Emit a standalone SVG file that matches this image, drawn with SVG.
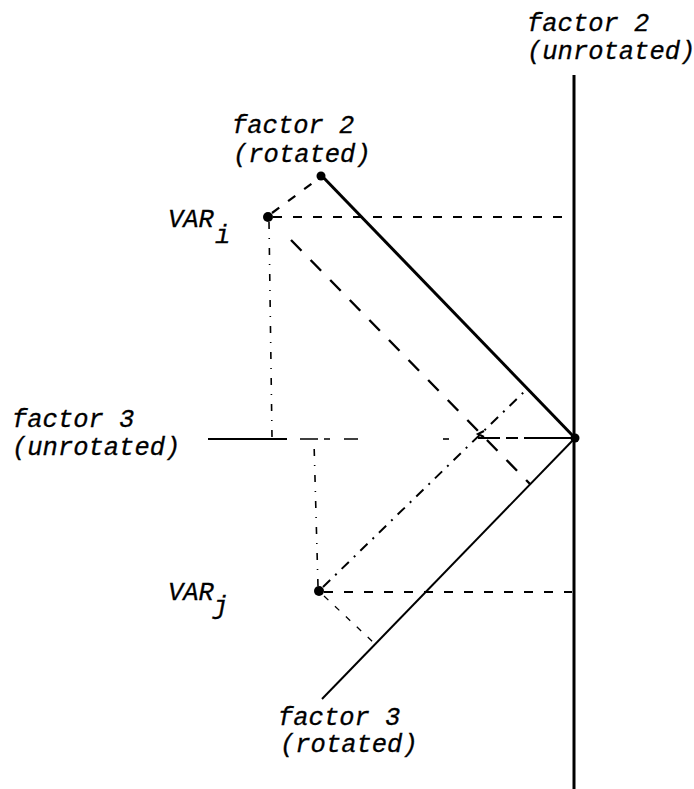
<svg xmlns="http://www.w3.org/2000/svg" width="694" height="789" viewBox="0 0 694 789">
<style>
  text { font-family: "Liberation Mono", "DejaVu Sans Mono", monospace; font-style: italic; font-size: 25.5px; fill: #000; stroke: #000; stroke-width: 0.3; }
  .axis { stroke: #000; fill: none; stroke-linecap: butt; }
  .proj { stroke: #000; fill: none; }
  .dash { stroke-width: 2.2; stroke-dasharray: 9 11; }
  .longdash { stroke-width: 2.4; stroke-dasharray: 15 13; }
  .dashdot { stroke-width: 2; stroke-dasharray: 10 7 2 7; }
  .thindash { stroke-width: 1.6; stroke-dasharray: 7 9 1 9; }
  .pt { fill: #000; }
</style>
<rect width="694" height="789" fill="#fff"/>

<g id="axes">
  <line class="axis" x1="574" y1="75" x2="574" y2="789" stroke-width="3"/>
  <line class="axis" x1="321" y1="175" x2="575" y2="438" stroke-width="3"/>
  <line class="axis" x1="322" y1="699" x2="575" y2="438" stroke-width="2"/>
  <line class="axis" x1="208" y1="439" x2="287" y2="439" stroke-width="2"/>
  <line class="axis" x1="300" y1="439" x2="362" y2="439" stroke-width="1.6" stroke-dasharray="18 6 6 14 14 4"/>
  <line class="axis" x1="443" y1="439" x2="449" y2="439" stroke-width="1.6"/>
  <line class="axis" x1="478" y1="438" x2="575" y2="438" stroke-width="2" stroke-dasharray="22 6 12 6 51"/>
  <circle class="pt" cx="575" cy="438" r="4.5"/>
  <circle class="pt" cx="321" cy="176" r="4.5"/>
</g>

<g id="var-i">
  <circle class="pt" cx="268" cy="217" r="5"/>
  <text x="168" y="227">VAR</text>
  <text x="215" y="243">i</text>
</g>

<g id="var-j">
  <circle class="pt" cx="319" cy="591" r="5"/>
  <text x="168" y="600">VAR</text>
  <text x="213" y="614">j</text>
</g>

<g id="connectors">
  <line class="proj dash" x1="273" y1="217" x2="573" y2="217"/>
  <line class="proj dash" x1="272" y1="213" x2="318" y2="179" stroke-dasharray="7 7"/>
  <line class="proj longdash" x1="291" y1="240" x2="530" y2="484"/>
  <line class="proj thindash" x1="269" y1="222" x2="272" y2="437"/>
  <line class="proj dash" x1="324" y1="592" x2="572" y2="592"/>
  <line class="proj dashdot" x1="323" y1="587" x2="527" y2="389"/>
  <line class="proj thindash" x1="318" y1="586" x2="314" y2="442"/>
  <line class="proj" x1="324" y1="596" x2="374" y2="643" stroke-width="1.3" stroke-dasharray="6 9"/>
  <path d="M484 431 L478 434 L484 437" fill="none" stroke="#000" stroke-width="2"/>
</g>

<g id="labels">
  <text x="527" y="31">factor 2</text>
  <text x="527" y="59">(unrotated)</text>
  <text x="232" y="133">factor 2</text>
  <text x="233" y="162">(rotated)</text>
  <text x="12" y="427">factor 3</text>
  <text x="12" y="455">(unrotated)</text>
  <text x="278" y="725">factor 3</text>
  <text x="280" y="752">(rotated)</text>
</g>
</svg>
